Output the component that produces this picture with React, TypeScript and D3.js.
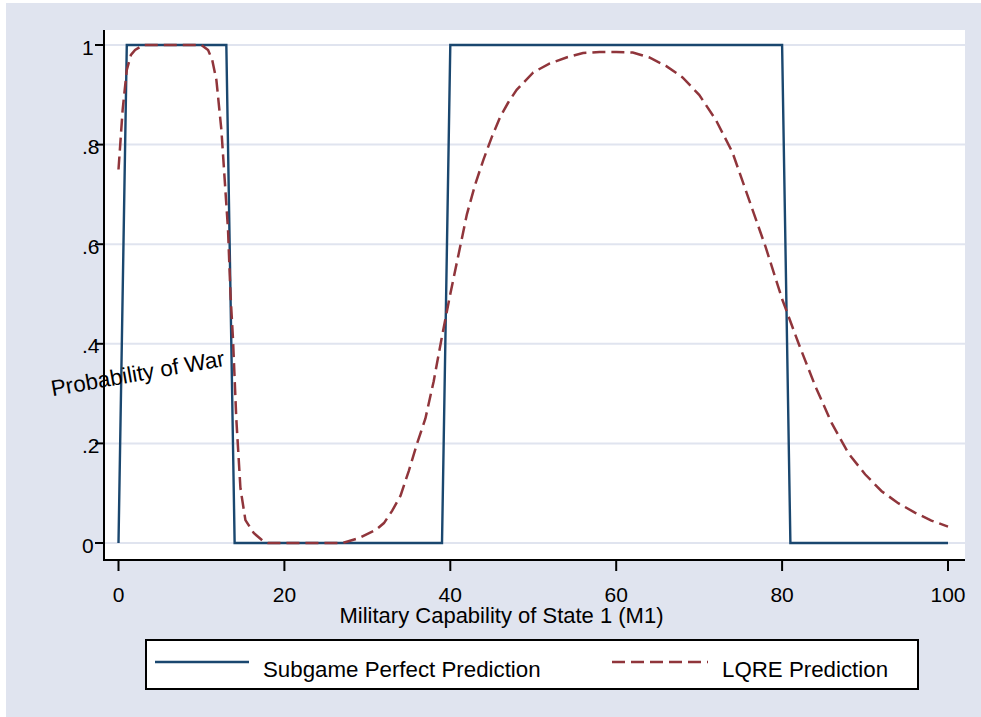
import React from 'react';
import * as d3 from 'd3';

// Subgame perfect prediction (step function, breakpoints only)
const spX = [0, 1, 13, 14, 39, 40, 80, 81, 100];
const spY = [0, 1, 1, 0, 0, 1, 1, 0, 0];

// LQRE prediction
const lqreX = [
  0, 0.5, 1, 1.5, 2, 3, 5, 8, 10, 10.8, 11.3, 11.8, 12.4, 13.2, 13.5, 13.8, 14.2, 14.7, 15.3, 16.3, 17.5, 18,
  27, 29, 31, 32, 33, 34, 35, 36, 37, 38, 39, 40, 41, 42, 43, 44, 45, 46, 47, 48, 50, 52, 54, 56, 58, 60, 62,
  63, 64, 66, 68, 70, 72, 74, 76, 78, 80, 82, 84, 86, 88, 90, 92, 94, 96, 98, 100,
];
const lqreY = [
  0.75, 0.87, 0.95, 0.98, 0.99, 1, 1, 1, 1, 0.99, 0.97, 0.93, 0.83, 0.63, 0.5, 0.41, 0.25, 0.11, 0.046, 0.02, 0.003, 0,
  0, 0.01, 0.026, 0.04, 0.065, 0.095, 0.145, 0.2, 0.25, 0.325, 0.415, 0.5, 0.58, 0.66, 0.72, 0.77, 0.815, 0.855,
  0.885, 0.91, 0.945, 0.963, 0.975, 0.984, 0.986, 0.986, 0.985, 0.98, 0.975, 0.958, 0.935, 0.9, 0.85, 0.785, 0.69,
  0.595, 0.49, 0.4, 0.315, 0.24, 0.18, 0.138, 0.104, 0.08, 0.061, 0.045, 0.033,
];

const xTicks = [0, 20, 40, 60, 80, 100];
const yTicks = [0, 0.2, 0.4, 0.6, 0.8, 1];
const yTickLabels = ['0', '.2', '.4', '.6', '.8', '1'];

const legendLabels = ['Subgame Perfect Prediction', 'LQRE Prediction'];

const NAVY = '#1a476f';
const MAROON = '#90353b';
const BG = '#e0e4ef';
const FONT = '"Liberation Sans", Arial, sans-serif';

export default function App() {
  const W = 981;
  const H = 717;

  const x = d3.scaleLinear().domain([0, 100]).range([118.5, 948]);
  const y = d3.scaleLinear().domain([0, 1]).range([543, 45]);

  const line = d3
    .line<[number, number]>()
    .x((d) => x(d[0]))
    .y((d) => y(d[1]));

  const spPts = spX.map((v, i) => [v, spY[i]] as [number, number]);
  const lqrePts = lqreX.map((v, i) => [v, lqreY[i]] as [number, number]);

  // plot region
  const pl = 104, pr = 965, pt = 30, pb = 560;

  return (
    <div style={{ position: 'absolute', left: 0, top: 0 }}>
      <svg width={W} height={H} style={{ display: 'block' }} fontFamily={FONT}>
        <rect x={0} y={0} width={W} height={H} fill="#ffffff" />
        <rect x={6} y={3} width={W - 6} height={H - 3} fill={BG} />
        <rect x={pl} y={pt} width={pr - pl} height={pb - pt} fill="#ffffff" />

        {/* gridlines */}
        {yTicks.map((t) => (
          <line key={'g' + t} x1={pl} x2={pr} y1={y(t)} y2={y(t)} stroke={BG} strokeWidth={2} />
        ))}

        {/* series */}
        <path d={line(spPts) || ''} fill="none" stroke={NAVY} strokeWidth={2.4} strokeLinejoin="miter" />
        <path
          d={line(lqrePts) || ''}
          fill="none"
          stroke={MAROON}
          strokeWidth={2.5}
          strokeDasharray="13,6"
        />

        {/* axes */}
        <line x1={pl} x2={pl} y1={pt} y2={pb + 1} stroke="#000" strokeWidth={2} />
        <line x1={pl - 1} x2={pr} y1={pb} y2={pb} stroke="#000" strokeWidth={2} />

        {yTicks.map((t, i) => (
          <g key={'y' + t}>
            <line x1={95} x2={pl} y1={y(t)} y2={y(t)} stroke="#000" strokeWidth={2} />
            <text x={82} y={y(t) + 9.5} fontSize={21} fill="#000">
              {yTickLabels[i]}
            </text>
          </g>
        ))}

        {xTicks.map((t) => (
          <g key={'x' + t}>
            <line x1={x(t)} x2={x(t)} y1={pb} y2={571} stroke="#000" strokeWidth={2} />
            <text x={x(t)} y={602} fontSize={21} textAnchor="middle" fill="#000">
              {t}
            </text>
          </g>
        ))}

        <text x={501.5} y={622.5} fontSize={22} textAnchor="middle" fill="#000">
          Military Capability of State 1 (M1)
        </text>
        <text
          x={139}
          y={381}
          fontSize={22.4}
          textAnchor="middle"
          fill="#000"
          transform="rotate(-10 139 381)"
        >
          Probability of War
        </text>

        {/* legend */}
        <rect x={146} y={640} width={772} height={49} fill="#ffffff" stroke="#000" strokeWidth={2} />
        <line x1={155} x2={249} y1={662} y2={662} stroke={NAVY} strokeWidth={2.4} />
        <text x={263} y={676.5} fontSize={22.3} fill="#000">
          {legendLabels[0]}
        </text>
        <line x1={612} x2={708} y1={662} y2={662} stroke={MAROON} strokeWidth={2.5} strokeDasharray="13,6" />
        <text x={722} y={676.5} fontSize={22.3} fill="#000">
          {legendLabels[1]}
        </text>
      </svg>
    </div>
  );
}
